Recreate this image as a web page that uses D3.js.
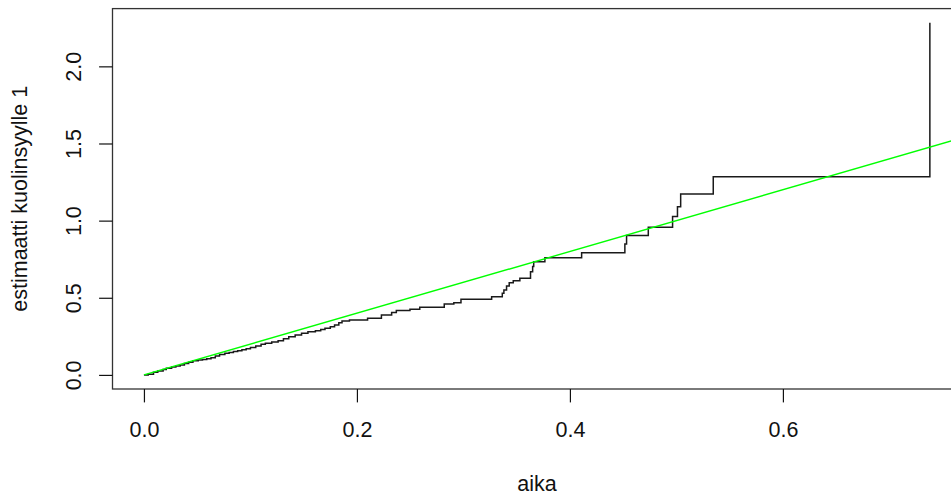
<!DOCTYPE html>
<html>
<head>
<meta charset="utf-8">
<script src="https://cdn.jsdelivr.net/npm/d3@7"></script>
<style>
  html, body { margin: 0; padding: 0; background: #fff; }
  svg { display: block; }
  text { font-family: "Liberation Sans", Arial, sans-serif; fill: #111; }
</style>
</head>
<body>
<svg id="chart" width="951" height="497"></svg>
<script>
// Step estimate (time, cumulative value after jump)
const stepTimes = [0, 0.004, 0.009, 0.013, 0.018, 0.021, 0.026, 0.030, 0.034, 0.038, 0.042, 0.046,
  0.051, 0.055, 0.059, 0.063, 0.067, 0.071, 0.076, 0.080, 0.084, 0.088, 0.092, 0.096, 0.100,
  0.105, 0.110, 0.114, 0.120, 0.126, 0.131, 0.136, 0.142, 0.148, 0.154, 0.161, 0.166, 0.170,
  0.175, 0.179, 0.183, 0.186, 0.193, 0.210, 0.223, 0.2326, 0.237, 0.2498, 0.259, 0.282, 0.291,
  0.2977, 0.3265, 0.3365, 0.338, 0.3405, 0.343, 0.3468, 0.353, 0.363, 0.365, 0.366, 0.3765,
  0.411, 0.4516, 0.4532, 0.4736, 0.4964, 0.501, 0.504, 0.5346, 0.738];
const stepValues = [0, 0.005, 0.018, 0.026, 0.035, 0.043, 0.052, 0.058, 0.065, 0.074, 0.082, 0.091,
  0.096, 0.100, 0.104, 0.112, 0.122, 0.132, 0.140, 0.146, 0.151, 0.157, 0.163, 0.170, 0.178,
  0.188, 0.198, 0.205, 0.213, 0.222, 0.235, 0.248, 0.258, 0.270, 0.279, 0.287, 0.295, 0.302,
  0.312, 0.324, 0.338, 0.350, 0.356, 0.367, 0.389, 0.404, 0.417, 0.425, 0.438, 0.460, 0.468,
  0.490, 0.507, 0.529, 0.551, 0.577, 0.598, 0.611, 0.626, 0.669, 0.702, 0.734, 0.760,
  0.792, 0.849, 0.903, 0.957, 1.026, 1.090, 1.173, 1.285, 2.283];
// Fitted straight line (green)
const lineTimes = [0, 0.8];
const lineValues = [0, 1.6];
// Ticks
const xTicks = [0, 0.2, 0.4, 0.6];
const yTicks = [0, 0.5, 1.0, 1.5, 2.0];
const xLabel = "aika";
const yLabel = "estimaatti kuolinsyylle 1";

const svg = d3.select("#chart");
const fmt = d3.format(".1f");

const xMin = d3.min(stepTimes), xMax = d3.max(stepTimes);
const yMin = d3.min(stepValues), yMax = d3.max(stepValues);
const xPad = (xMax - xMin) * 0.04, yPad = (yMax - yMin) * 0.04;

const plotL = 112.5, plotR = 961.3, plotT = 8.6, plotB = 389;
const x = d3.scaleLinear().domain([xMin - xPad, xMax + xPad]).range([plotL, plotR]);
const y = d3.scaleLinear().domain([yMin - yPad, yMax + yPad]).range([plotB, plotT]);

svg.append("defs").append("clipPath").attr("id", "clip")
  .append("rect").attr("x", plotL).attr("y", plotT)
  .attr("width", plotR - plotL).attr("height", plotB - plotT);

// Step line
const stepData = stepTimes.map((t, i) => [t, stepValues[i]]);
svg.append("path")
  .datum(stepData)
  .attr("fill", "none")
  .attr("stroke", "#1a1a1a")
  .attr("stroke-width", 1.5)
  .attr("d", d3.line().x(d => x(d[0])).y(d => y(d[1])).curve(d3.curveStepAfter));

// Green line
const lineData = lineTimes.map((t, i) => [t, lineValues[i]]);
svg.append("path")
  .datum(lineData)
  .attr("clip-path", "url(#clip)")
  .attr("fill", "none")
  .attr("stroke", "#00ff00")
  .attr("stroke-width", 1.4)
  .attr("d", d3.line().x(d => x(d[0])).y(d => y(d[1])));

// Box
svg.append("rect")
  .attr("x", plotL).attr("y", plotT)
  .attr("width", plotR - plotL).attr("height", plotB - plotT)
  .attr("fill", "none").attr("stroke", "#333").attr("stroke-width", 1.3);

const tickLen = 13.4;
// X axis (R style, line from first to last tick)
const xAxis = d3.axisBottom(x).tickValues(xTicks).tickFormat(fmt).tickSize(tickLen).tickSizeOuter(0).tickPadding(0);
const gx = svg.append("g").attr("transform", `translate(0,${plotB})`).call(xAxis);
gx.select(".domain").remove();
gx.selectAll(".tick line").attr("stroke", "#111").attr("stroke-width", 1.2);
gx.selectAll(".tick text")
  .attr("y", 48).attr("dy", null)
  .style("font-size", "21.5px").style("fill", "#111")
  .attr("font-family", null);

// Y axis
const yAxis = d3.axisLeft(y).tickValues(yTicks).tickFormat(fmt).tickSize(tickLen).tickSizeOuter(0).tickPadding(0);
const gy = svg.append("g").attr("transform", `translate(${plotL},0)`).call(yAxis);
gy.select(".domain").remove();
gy.selectAll(".tick line").attr("stroke", "#111").attr("stroke-width", 1.2);
gy.selectAll(".tick text")
  .attr("x", null).attr("dy", null)
  .attr("text-anchor", "middle")
  .attr("transform", "translate(-32,0) rotate(-90)")
  .style("font-size", "21.5px").style("fill", "#111")
  .attr("font-family", null);

// Axis titles
svg.append("text")
  .attr("x", (plotL + plotR) / 2 - 0).attr("y", plotB + 101.5)
  .attr("text-anchor", "middle")
  .style("font-size", "21.5px")
  .text(xLabel);
svg.append("text")
  .attr("transform", `translate(${plotL - 85.6},${(plotT + plotB) / 2}) rotate(-90)`)
  .attr("text-anchor", "middle")
  .style("font-size", "21.5px")
  .text(yLabel);
</script>
</body>
</html>
